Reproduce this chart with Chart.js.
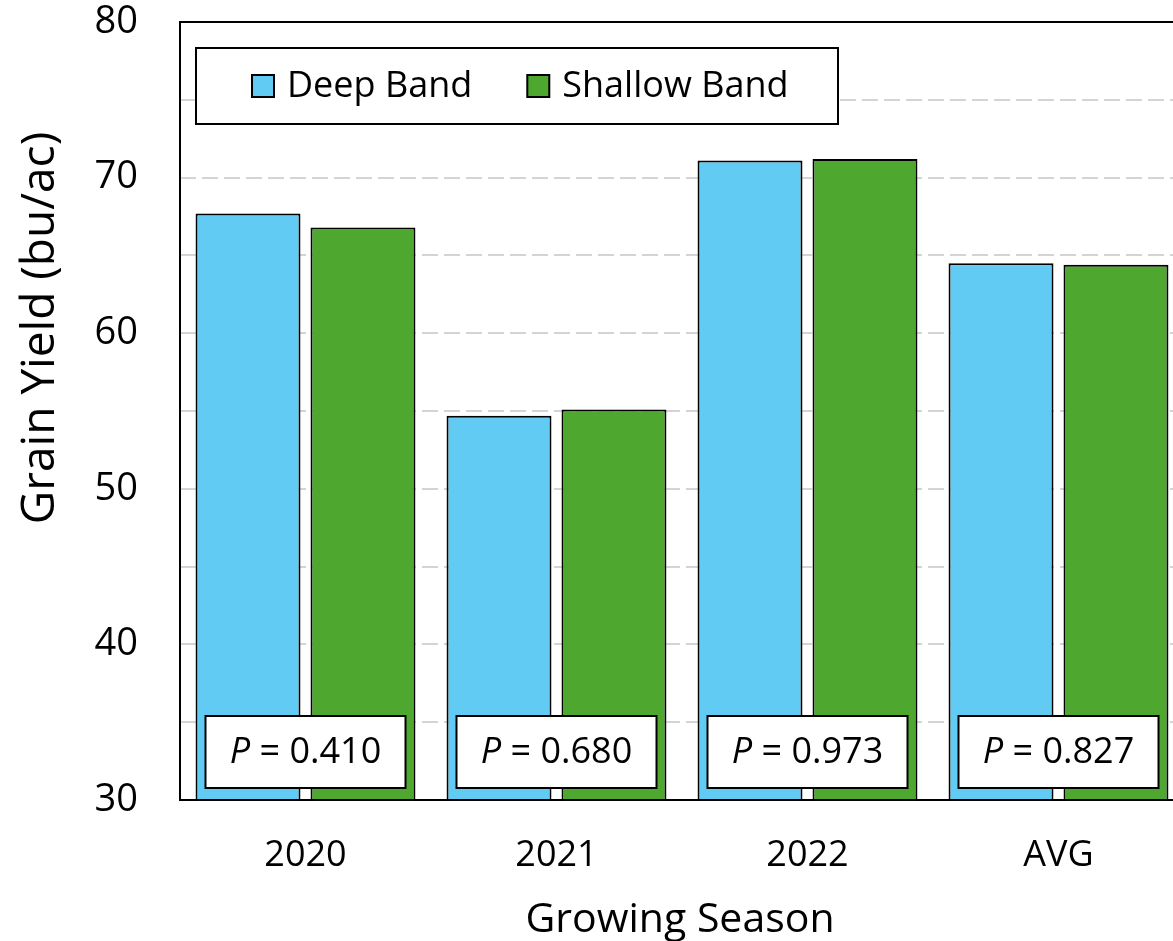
<!DOCTYPE html>
<html>
<head>
<meta charset="utf-8">
<script src="https://cdn.jsdelivr.net/npm/chart.js@4.4.1/dist/chart.umd.min.js"></script>
<style>
  html, body { margin: 0; padding: 0; background: #fff; overflow: hidden; }
  #wrap { width: 1184px; height: 941px; position: relative; }
</style>
</head>
<body>
<div id="wrap"><canvas id="chartYield"></canvas></div>
<script>
// Grain yield by growing season
const seasons = ["2020", "2021", "2022", "AVG"];
const deepBand = [67.7, 54.7, 71.1, 64.5];
const shallowBand = [66.8, 55.1, 71.2, 64.4];
const pValues = ["0.410", "0.680", "0.973", "0.827"];
const yTicks = [30, 40, 50, 60, 70, 80];

const FONT = "'Open Sans', sans-serif";
const BLUE = "#61CBF3";
const GREEN = "#4EA72E";

// frame, legend box, P-value boxes, axis titles
const overlay = {
  id: "overlay",
  afterDraw(chart) {
    const ctx = chart.ctx;
    const a = chart.chartArea;
    const x = chart.scales.x;
    ctx.save();

    // plot frame
    ctx.strokeStyle = "#000";
    ctx.lineWidth = 2;
    ctx.strokeRect(a.left, a.top, a.right - a.left, a.bottom - a.top);

    // legend
    const lx = a.left + 16, ly = a.top + 26, lw = 642, lh = 76;
    ctx.fillStyle = "#fff";
    ctx.fillRect(lx, ly, lw, lh);
    ctx.strokeRect(lx, ly, lw, lh);
    ctx.font = "36px " + FONT;
    ctx.textBaseline = "middle";
    const items = [["Deep Band", BLUE], ["Shallow Band", GREEN]];
    let cx = lx + 56;
    const cy = ly + lh / 2;
    items.forEach(([label, col]) => {
      ctx.fillStyle = col;
      ctx.fillRect(cx, cy - 11, 22, 22);
      ctx.lineWidth = 2;
      ctx.strokeRect(cx, cy - 11, 22, 22);
      ctx.fillStyle = "#000";
      ctx.textAlign = "left";
      ctx.fillText(label, cx + 35, cy + 1);
      cx += 35 + ctx.measureText(label).width + 55;
    });

    // P-value boxes
    pValues.forEach((p, i) => {
      const mx = x.getPixelForValue(i);
      const bw = 200, bh = 72;
      const bx = mx - bw / 2, by = a.bottom - 12 - bh;
      ctx.fillStyle = "#fff";
      ctx.fillRect(bx, by, bw, bh);
      ctx.strokeStyle = "#000";
      ctx.lineWidth = 2;
      ctx.strokeRect(bx, by, bw, bh);
      const rest = " = " + p;
      ctx.font = "italic 36px " + FONT;
      const wP = ctx.measureText("P").width;
      ctx.font = "36px " + FONT;
      const wR = ctx.measureText(rest).width;
      const sx = mx - (wP + wR) / 2;
      ctx.fillStyle = "#000";
      ctx.textAlign = "left";
      ctx.font = "italic 36px " + FONT;
      ctx.fillText("P", sx, by + bh / 2 + 1);
      ctx.font = "36px " + FONT;
      ctx.fillText(rest, sx + wP, by + bh / 2 + 1);
    });

    // axis titles
    ctx.fillStyle = "#000";
    ctx.textAlign = "center";
    ctx.textBaseline = "alphabetic";
    ctx.font = "41px " + FONT;
    ctx.fillText("Growing Season", (a.left + a.right) / 2 - 2, 932);
    ctx.translate(54, 328);
    ctx.rotate(-Math.PI / 2);
    ctx.font = "46px " + FONT;
    ctx.fillText("Grain Yield (bu/ac)", 0, 0);
    ctx.restore();
  },
};

const chartYield = document.getElementById("chartYield");
new Chart(chartYield, {
  type: "bar",
  data: {
    labels: seasons,
    datasets: [
      {
        label: "Deep Band",
        data: deepBand,
        backgroundColor: BLUE,
        borderColor: "#000",
        borderWidth: 2,
        borderSkipped: false,
      },
      {
        label: "Shallow Band",
        data: shallowBand,
        backgroundColor: GREEN,
        borderColor: "#000",
        borderWidth: 2,
        borderSkipped: false,
      },
    ],
  },
  options: {
    responsive: true,
    maintainAspectRatio: false,
    animation: false,
    datasets: { bar: { categoryPercentage: 0.916, barPercentage: 0.913 } },
    layout: { padding: { top: 22, right: 0, left: 0, bottom: 0 } },
    plugins: { legend: { display: false }, tooltip: { enabled: false } },
    scales: {
      x: {
        afterFit: (s) => { s.height = 141; s.paddingLeft = 0; s.paddingRight = 0; },
        grid: { display: false, drawTicks: false },
        border: { display: false },
        ticks: { color: "#000", font: { family: FONT, size: 36 }, padding: 34 },
      },
      y: {
        min: yTicks[0],
        max: yTicks[yTicks.length - 1],
        afterFit: (s) => { s.width = 180; s.paddingTop = 0; s.paddingBottom = 0; },
        border: { display: false, dash: [16, 6] },
        grid: {
          drawTicks: false,
          lineWidth: 2,
          color: (c) => (c.tick && (c.tick.value === 30 || c.tick.value === 80) ? "rgba(0,0,0,0)" : "#D4D4D4"),
        },
        ticks: {
          stepSize: 5,
          color: "#000",
          padding: 42,
          font: { family: FONT, size: 38 },
          callback: (v) => (yTicks.includes(v) ? v : ""),
        },
      },
    },
  },
  plugins: [overlay],
});
</script>
</body>
</html>
